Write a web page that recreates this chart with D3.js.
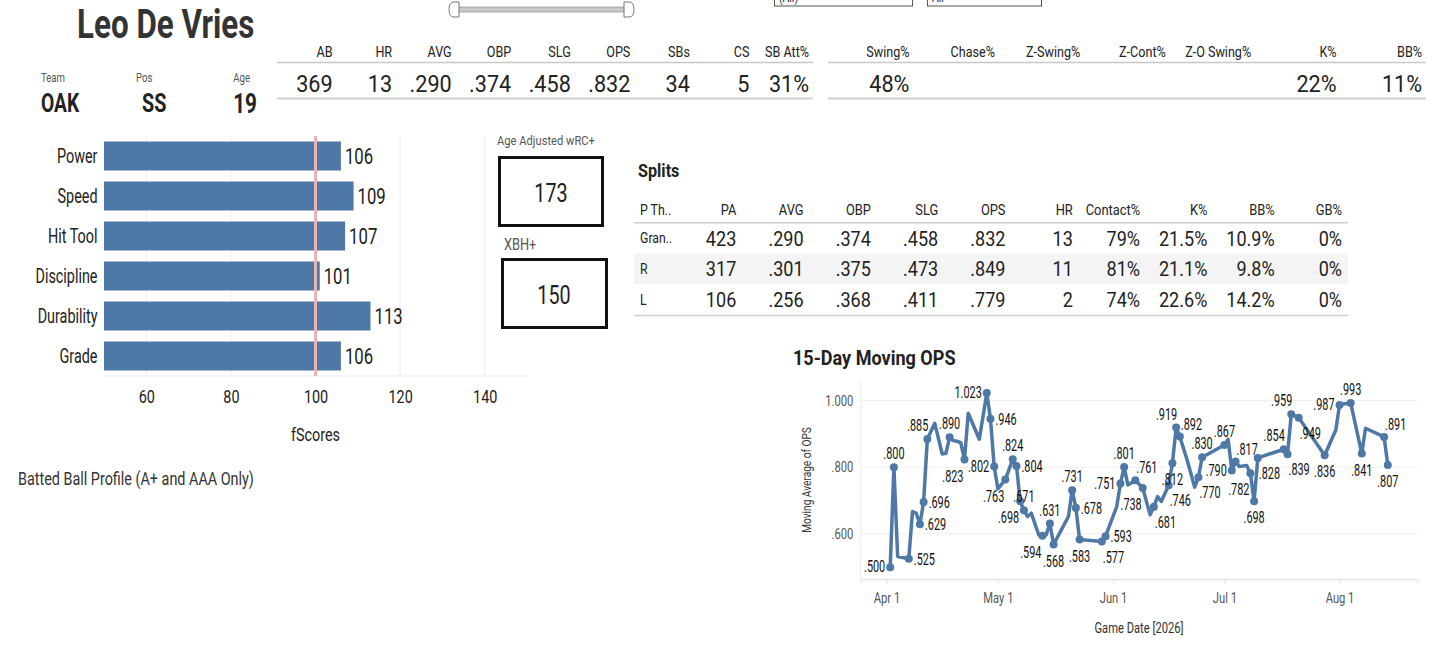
<!DOCTYPE html>
<html>
<head>
<meta charset="utf-8">
<script src="https://cdn.jsdelivr.net/npm/d3@7"></script>
<style>
  body { margin: 0; background: #fff; }
  svg { display: block; font-family: Roboto, "Noto Sans", sans-serif; }
</style>
</head>
<body>
<svg id="dash" width="1456" height="646"></svg>
<script>
// ---- data ----
const playerName = "Leo De Vries";
const playerTeam = "OAK", playerPos = "SS", playerAge = "19";

const statLabels = ["AB", "HR", "AVG", "OBP", "SLG", "OPS", "SBs", "CS", "SB Att%"];
const statValues = ["369", "13", ".290", ".374", ".458", ".832", "34", "5", "31%"];

const discLabels = ["Swing%", "Chase%", "Z-Swing%", "Z-Cont%", "Z-O Swing%", "K%", "BB%"];
const discValues = ["48%", "", "", "", "", "22%", "11%"];

const fNames = ["Power", "Speed", "Hit Tool", "Discipline", "Durability", "Grade"];
const fValues = [106, 109, 107, 101, 113, 106];
const fTicks = [60, 80, 100, 120, 140];

const wrcPlus = "173";
const xbhPlus = "150";

const splitCols = ["PA", "AVG", "OBP", "SLG", "OPS", "HR", "Contact%", "K%", "BB%", "GB%"];
const splitRows = ["Gran..", "R", "L"];
const splitGrand = ["423", ".290", ".374", ".458", ".832", "13", "79%", "21.5%", "10.9%", "0%"];
const splitR = ["317", ".301", ".375", ".473", ".849", "11", "81%", "21.1%", "9.8%", "0%"];
const splitL = ["106", ".256", ".368", ".411", ".779", "2", "74%", "22.6%", "14.2%", "0%"];

const opsDates = [
  "2026-04-02","2026-04-03","2026-04-04","2026-04-07","2026-04-08","2026-04-09","2026-04-10",
  "2026-04-11","2026-04-12","2026-04-14","2026-04-16","2026-04-17","2026-04-18","2026-04-19",
  "2026-04-20","2026-04-21","2026-04-22","2026-04-23","2026-04-26","2026-04-28","2026-04-29",
  "2026-04-30","2026-05-01","2026-05-03","2026-05-05","2026-05-06","2026-05-07","2026-05-08",
  "2026-05-09","2026-05-10","2026-05-12","2026-05-13","2026-05-14","2026-05-15","2026-05-16",
  "2026-05-20","2026-05-21","2026-05-22","2026-05-23","2026-05-29","2026-05-30","2026-06-02",
  "2026-06-03","2026-06-04","2026-06-05","2026-06-07","2026-06-09","2026-06-11","2026-06-12",
  "2026-06-13","2026-06-14","2026-06-16","2026-06-17","2026-06-18","2026-06-19","2026-06-21",
  "2026-06-23","2026-06-24","2026-06-25","2026-07-01","2026-07-02","2026-07-03","2026-07-04",
  "2026-07-05","2026-07-07","2026-07-08","2026-07-09","2026-07-10","2026-07-17","2026-07-18",
  "2026-07-19","2026-07-21","2026-07-28","2026-07-31","2026-08-01","2026-08-02","2026-08-04",
  "2026-08-07","2026-08-08","2026-08-13","2026-08-14"
];
const opsValues = [
  0.500, 0.800, 0.532, 0.525, 0.667, 0.662, 0.629,
  0.696, 0.885, 0.932, 0.840, 0.842, 0.890, 0.880,
  0.878, 0.874, 0.823, 0.962, 0.884, 1.023, 0.946,
  0.802, 0.735, 0.763, 0.824, 0.804, 0.698, 0.671,
  0.652, 0.662, 0.597, 0.594, 0.597, 0.631, 0.568,
  0.652, 0.731, 0.678, 0.583, 0.577, 0.593, 0.682,
  0.751, 0.801, 0.747, 0.761, 0.738, 0.657, 0.681,
  0.712, 0.697, 0.746, 0.812, 0.919, 0.892, 0.820,
  0.740, 0.770, 0.830, 0.867, 0.884, 0.790, 0.817,
  0.802, 0.805, 0.782, 0.698, 0.828, 0.854, 0.839,
  0.959, 0.949, 0.836, 0.912, 0.987, 0.990, 0.993,
  0.841, 0.917, 0.891, 0.807
];

// where each marked point puts its label (layout only)
const labelSide = {
  "2026-04-02":"l","2026-04-03":"t","2026-04-07":"r","2026-04-10":"r","2026-04-11":"r",
  "2026-04-12":"tl","2026-04-18":"t","2026-04-22":"bl","2026-04-28":"l","2026-04-29":"r",
  "2026-04-30":"l","2026-05-03":"bl","2026-05-05":"t","2026-05-06":"r","2026-05-07":"bl",
  "2026-05-08":"t","2026-05-13":"bl","2026-05-15":"t","2026-05-16":"b","2026-05-21":"t",
  "2026-05-22":"r","2026-05-23":"b","2026-05-29":"br","2026-05-30":"r","2026-06-03":"l",
  "2026-06-04":"t","2026-06-07":"tr","2026-06-09":"bl","2026-06-12":"br","2026-06-16":"br",
  "2026-06-17":"b","2026-06-18":"tl","2026-06-19":"tr","2026-06-24":"br","2026-06-25":"t",
  "2026-07-01":"t","2026-07-03":"l","2026-07-04":"tr","2026-07-08":"bl","2026-07-09":"b",
  "2026-07-10":"br","2026-07-17":"tl","2026-07-18":"br","2026-07-19":"tl","2026-07-21":"br",
  "2026-07-28":"b","2026-08-01":"l","2026-08-04":"t","2026-08-07":"b","2026-08-13":"tr",
  "2026-08-14":"b"
};

// ---- helpers ----
const svg = d3.select("#dash");
const BLUE = "#4e79a7";

// text squeezed horizontally to mimic the condensed dashboard font
function txt(parent, x, y, s, o = {}) {
  const g = parent.append("g")
    .attr("transform", `translate(${x},${y}) scale(${o.sx || 0.8},1)`);
  return g.append("text")
    .attr("text-anchor", o.anchor || "start")
    .attr("font-size", o.size || 14)
    .attr("font-weight", o.weight || 400)
    .attr("fill", o.color || "#222")
    .text(s);
}

// ---- top filters ----
svg.append("rect").attr("x", 456).attr("y", 7).attr("width", 172).attr("height", 5)
  .attr("fill", "#c8c8c8").attr("stroke", "#999").attr("stroke-width", 0.8);
svg.append("path").attr("d", "M459,2 L454,2 Q449,2 449,9.5 Q449,17 454,17 L459,17 Z")
  .attr("fill", "#fff").attr("stroke", "#777");
svg.append("path").attr("d", "M624,2 L629,2 Q634,2 634,9.5 Q634,17 629,17 L624,17 Z")
  .attr("fill", "#fff").attr("stroke", "#777");
svg.append("rect").attr("x", 774.5).attr("y", -20).attr("width", 138).attr("height", 26)
  .attr("fill", "#fff").attr("stroke", "#555");
svg.append("rect").attr("x", 927.5).attr("y", -20).attr("width", 114).attr("height", 26)
  .attr("fill", "#fff").attr("stroke", "#555");
txt(svg, 779, 2, "(All)", { size: 13 });
txt(svg, 932, 2, "All", { size: 13 });

// ---- header ----
txt(svg, 77, 38, playerName, { size: 41, weight: 700, color: "#333", sx: 0.765 });
txt(svg, 41, 82, "Team", { size: 12, color: "#555" });
txt(svg, 41, 112, playerTeam, { size: 26, weight: 700, sx: 0.74 });
txt(svg, 136, 82, "Pos", { size: 12, color: "#555" });
txt(svg, 142, 112, playerPos, { size: 26, weight: 700, sx: 0.76 });
txt(svg, 250, 82, "Age", { size: 12, color: "#555", anchor: "end" });
txt(svg, 257, 113, playerAge, { size: 28, weight: 700, anchor: "end", sx: 0.74 });

// ---- stat tables ----
function statTable(labels, values, x0, x1) {
  const xb = d3.scaleBand().domain(labels).range([x0, x1]);
  svg.append("line").attr("x1", x0).attr("x2", x1).attr("y1", 62.5).attr("y2", 62.5)
    .attr("stroke", "#c8c8c8").attr("stroke-width", 1.5);
  svg.append("line").attr("x1", x0).attr("x2", x1).attr("y1", 98.5).attr("y2", 98.5)
    .attr("stroke", "#d0d0d0").attr("stroke-width", 2);
  labels.forEach((l, i) => {
    const xr = xb(l) + xb.bandwidth() - 4;
    txt(svg, xr, 57, l, { size: 14, anchor: "end", sx: 0.9 });
    if (values[i]) txt(svg, xr, 91.5, values[i], { size: 24, anchor: "end", sx: 0.9 });
  });
}
statTable(statLabels, statValues, 277, 813);
statTable(discLabels, discValues, 828, 1426);

// ---- fScores bars ----
const fx = d3.scaleLinear().domain([50, 150]).range([104, 527]);
const fy = d3.scaleBand().domain(fNames).range([136, 376]).paddingInner(0.275).paddingOuter(0.1375);

const fg = svg.append("g");
fg.selectAll(".grid").data(fTicks.filter(t => t !== 100)).join("line")
  .attr("x1", d => fx(d)).attr("x2", d => fx(d)).attr("y1", 136).attr("y2", 376)
  .attr("stroke", "#eeeeee");
fg.append("line").attr("x1", 104).attr("x2", 527).attr("y1", 376).attr("y2", 376).attr("stroke", "#eeeeee");
fg.selectAll(".bar").data(fNames).join("rect")
  .attr("x", fx(50)).attr("y", d => fy(d))
  .attr("width", (d, i) => fx(fValues[i]) - fx(50)).attr("height", fy.bandwidth())
  .attr("fill", BLUE);
fg.append("line").attr("x1", fx(100)).attr("x2", fx(100)).attr("y1", 136).attr("y2", 376)
  .attr("stroke", "#eeb3b3").attr("stroke-width", 3);
fNames.forEach((n, i) => {
  const cy = fy(n) + fy.bandwidth() / 2;
  txt(fg, 97.5, cy + 7, n, { size: 20, anchor: "end", sx: 0.72 });
  txt(fg, fx(fValues[i]) + 4, cy + 8, String(fValues[i]), { size: 22, sx: 0.76 });
});
fg.append("g").attr("transform", "translate(0,376)")
  .call(d3.axisBottom(fx).tickValues(fTicks).tickSize(0).tickPadding(14))
  .call(g => g.select(".domain").remove())
  .call(g => g.selectAll("text").attr("font-size", 18).attr("fill", "#222")
    .attr("font-family", "Roboto").attr("transform", "scale(0.8,1)"));
txt(fg, fx(100), 441, "fScores", { size: 18, anchor: "middle", sx: 0.8 });
txt(svg, 18, 485, "Batted Ball Profile (A+ and AAA Only)", { size: 18, color: "#333", sx: 0.8 });

// ---- wRC+ / XBH+ boxes ----
txt(svg, 497, 145, "Age Adjusted wRC+", { size: 13, color: "#555", sx: 0.86 });
svg.append("rect").attr("x", 499.5).attr("y", 157.5).attr("width", 103).attr("height", 68)
  .attr("fill", "none").attr("stroke", "#111").attr("stroke-width", 3);
txt(svg, 551, 202, wrcPlus, { size: 26, anchor: "middle", sx: 0.76 });
txt(svg, 504, 250, "XBH+", { size: 16, color: "#555" });
svg.append("rect").attr("x", 502.5).attr("y", 259.5).attr("width", 104).attr("height", 68)
  .attr("fill", "none").attr("stroke", "#111").attr("stroke-width", 3);
txt(svg, 554, 304, xbhPlus, { size: 26, anchor: "middle", sx: 0.76 });

// ---- splits table ----
txt(svg, 638, 176.5, "Splits", { size: 18, weight: 700, sx: 0.9 });
const sx = d3.scaleBand().domain(splitCols).range([675, 1348]);
const sy = d3.scaleBand().domain(splitRows).range([222.7, 315]);
const rowsData = [splitGrand, splitR, splitL];
svg.append("rect").attr("x", 634).attr("y", sy("R")).attr("width", 714).attr("height", sy.bandwidth())
  .attr("fill", "#f4f4f4");
txt(svg, 640, 215, "P Th..", { size: 14, sx: 0.88 });
splitCols.forEach(c => txt(svg, sx(c) + sx.bandwidth() - 6, 215, c, { size: 14, anchor: "end", sx: 0.92 }));
svg.append("line").attr("x1", 634).attr("x2", 1348).attr("y1", 222.7).attr("y2", 222.7)
  .attr("stroke", "#cfcfcf").attr("stroke-width", 1.5);
svg.append("line").attr("x1", 634).attr("x2", 1348).attr("y1", 315.5).attr("y2", 315.5)
  .attr("stroke", "#cfcfcf").attr("stroke-width", 1.5);
splitRows.forEach((r, ri) => {
  const base = sy(r) + sy.bandwidth() / 2;
  txt(svg, 640, base + 5, r, { size: 14, sx: 0.88 });
  rowsData[ri].forEach((v, ci) => {
    txt(svg, sx(splitCols[ci]) + sx.bandwidth() - 6, base + 7.5, v, { size: 21, anchor: "end", sx: 0.86 });
  });
});

// ---- 15-day moving OPS ----
const parse = d3.utcParse("%Y-%m-%d");
const pts = opsDates.map((d, i) => ({ key: d, date: parse(d), v: opsValues[i] }));
const lx = d3.scaleUtc().domain([parse("2026-03-25"), parse("2026-08-22")]).range([860.5, 1417.5]);
const ly = d3.scaleLinear().domain([0.4635, 1.062]).range([579.3, 380]);
const lg = svg.append("g");

txt(svg, 793, 365, "15-Day Moving OPS", { size: 21, weight: 700, sx: 0.86 });

lg.selectAll(".hg").data([0.6, 0.8, 1.0]).join("line")
  .attr("x1", 860.5).attr("x2", 1417.5).attr("y1", d => ly(d)).attr("y2", d => ly(d))
  .attr("stroke", "#eeeeee");
lg.append("line").attr("x1", 860.5).attr("x2", 860.5).attr("y1", 380).attr("y2", 579.3).attr("stroke", "#f0f0f0");

const fmtOps = v => v >= 1 ? d3.format(".3f")(v) : d3.format(".3f")(v).replace(/^0/, "");
lg.append("g").attr("transform", "translate(860.5,0)")
  .call(d3.axisLeft(ly).tickValues([0.6, 0.8, 1.0]).tickFormat(fmtOps).tickSize(0).tickPadding(8))
  .call(g => g.select(".domain").remove())
  .call(g => g.selectAll("text").attr("font-size", 14).attr("fill", "#555").attr("font-family", "Roboto")
    .attr("transform", "scale(0.8,1)").attr("dx", -1));
lg.append("g").attr("transform", "translate(0,579.3)")
  .call(d3.axisBottom(lx).ticks(d3.utcMonth.every(1)).tickFormat(d3.utcFormat("%b %-d")).tickSize(4).tickPadding(10))
  .call(g => g.select(".domain").attr("stroke", "#dddddd"))
  .call(g => g.selectAll("line").attr("stroke", "#dddddd"))
  .call(g => g.selectAll("text").attr("font-size", 14).attr("fill", "#555").attr("font-family", "Roboto")
    .attr("transform", "scale(0.8,1)"));

const yTitle = lg.append("g").attr("transform", "translate(811,480) rotate(-90) scale(0.78,1)");
yTitle.append("text").attr("text-anchor", "middle").attr("font-size", 13).attr("fill", "#333")
  .text("Moving Average of OPS");
txt(svg, 1139, 633, "Game Date [2026]", { size: 14, anchor: "middle", color: "#333", sx: 0.8 });

lg.append("path").datum(pts)
  .attr("d", d3.line().x(d => lx(d.date)).y(d => ly(d.v)))
  .attr("fill", "none").attr("stroke", BLUE).attr("stroke-width", 3.5).attr("stroke-linejoin", "round");

const marked = pts.filter(d => labelSide[d.key]);
lg.selectAll(".dot").data(marked).join("circle")
  .attr("cx", d => lx(d.date)).attr("cy", d => ly(d.v)).attr("r", 4).attr("fill", BLUE);

const off = {
  t: [0, -8, "middle"], b: [0, 22, "middle"], l: [-5, 5, "end"], r: [5, 6, "start"],
  tl: [1, -8, "end"], tr: [1, -7, "start"], bl: [-1, 22, "end"], br: [1, 21, "start"]
};
marked.forEach(d => {
  const [dx, dy, anchor] = off[labelSide[d.key]];
  txt(lg, lx(d.date) + dx, ly(d.v) + dy, fmtOps(d.v), { size: 16, anchor: anchor, sx: 0.68, color: "#111" });
});
</script>
</body>
</html>
